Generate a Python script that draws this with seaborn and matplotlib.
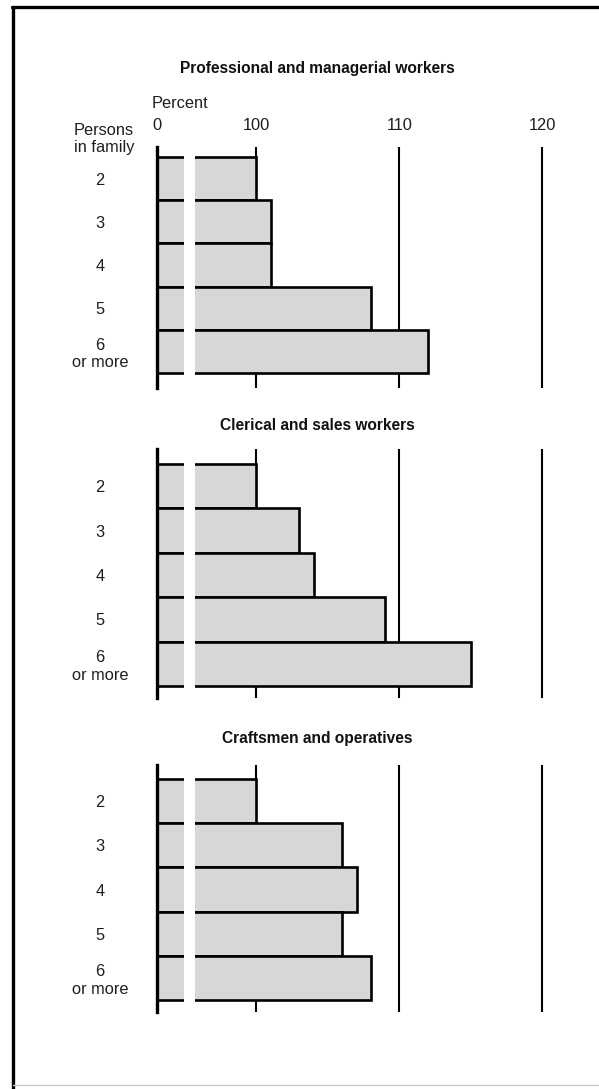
import matplotlib
matplotlib.use("Agg")
import matplotlib.pyplot as plt
from matplotlib.lines import Line2D
import seaborn as sns

# Data (percent)
persons = ["2", "3", "4", "5", "6\nor more"]
professional = [100, 101, 101, 108, 112]
clerical = [100, 103, 104, 109, 115]
craftsmen = [100, 106, 107, 106, 108]
titles = ["Professional and managerial workers",
          "Clerical and sales workers",
          "Craftsmen and operatives"]
grid_ticks = [100, 110, 120]

sns.set_theme(style="white")
plt.rcParams["font.family"] = ["Liberation Sans", "DejaVu Sans"]

W, H = 599, 1089
fig = plt.figure(figsize=(W / 100, H / 100), dpi=100)
fig.patch.set_facecolor("white")

BAR = "#d7d7d7"
TXT = "#1e1e1e"
FS = 11.8


def rect(x0, x1, ytop, ybot):
    return [x0 / W, 1 - ybot / H, (x1 - x0) / W, (ybot - ytop) / H]


# layout in pixels: title y, axes top/bottom, bars top/bottom
layout = [
    (68, 147, 388, 157, 373),
    (425, 449, 698, 464, 686),
    (738, 765, 1012, 779, 1000),
]
series = [professional, clerical, craftsmen]

for i, (vals, title, lay) in enumerate(zip(series, titles, layout)):
    ty, at, ab, bt, bb = lay
    u = 5.0 / (bb - bt)
    ylim = (4.5 + (ab - bb) * u, -0.5 - (bt - at) * u)

    stub = fig.add_axes(rect(157, 184, at, ab))
    main = fig.add_axes(rect(195, 561, at, ab))

    for ax in (stub, main):
        sns.barplot(x=vals, y=persons, orient="h", width=1.0, color=BAR,
                    saturation=1, edgecolor="black", linewidth=1.9, ax=ax)
        ax.set_ylim(*ylim)
        ax.set_xlabel("")
        ax.set_ylabel("")
        for s in ax.spines.values():
            s.set_visible(False)
        ax.set_facecolor("none")

    stub.set_xlim(0, 3)
    stub.spines["left"].set_visible(True)
    stub.spines["left"].set_color("black")
    stub.spines["left"].set_linewidth(2.4)
    stub.spines["left"].set_zorder(5)
    stub.tick_params(axis="y", length=0, pad=41, labelsize=FS, colors=TXT)
    for lab in stub.get_yticklabels():
        lab.set_ha("center")
        lab.set_multialignment("center")

    main.set_xlim(95.7, 121.3)
    main.set_xticks(grid_ticks)
    main.set_yticks([])
    main.grid(axis="x", color="black", linewidth=1.5)
    main.set_axisbelow(True)

    if i == 0:
        stub.xaxis.tick_top()
        stub.set_xticks([0])
        main.xaxis.tick_top()
        for ax in (stub, main):
            ax.tick_params(axis="x", length=0, pad=10, labelsize=FS, colors=TXT)
    else:
        stub.set_xticks([])
        main.tick_params(axis="x", length=0, labeltop=False, labelbottom=False)

    fig.text(317 / W, 1 - ty / H, title, ha="center", va="center",
             fontsize=11.2, fontweight="bold", color="#111111")

fig.text(152 / W, 1 - 103 / H, "Percent", ha="left", va="center",
         fontsize=FS, color=TXT)
fig.text(104 / W, 1 - 139 / H, "Persons\nin family", ha="center", va="center",
         fontsize=FS, color=TXT, linespacing=1.1)

# outer frame
fig.add_artist(Line2D([13 / W, 13 / W], [0, 1 - 7 / H], color="black", lw=2.4))
fig.add_artist(Line2D([12 / W, 1], [1 - 7 / H, 1 - 7 / H], color="black", lw=2.4))
fig.add_artist(Line2D([13 / W, 1], [1 - 1085 / H, 1 - 1085 / H],
                      color="#cccccc", lw=1))

fig.savefig("out.png", dpi=100)
